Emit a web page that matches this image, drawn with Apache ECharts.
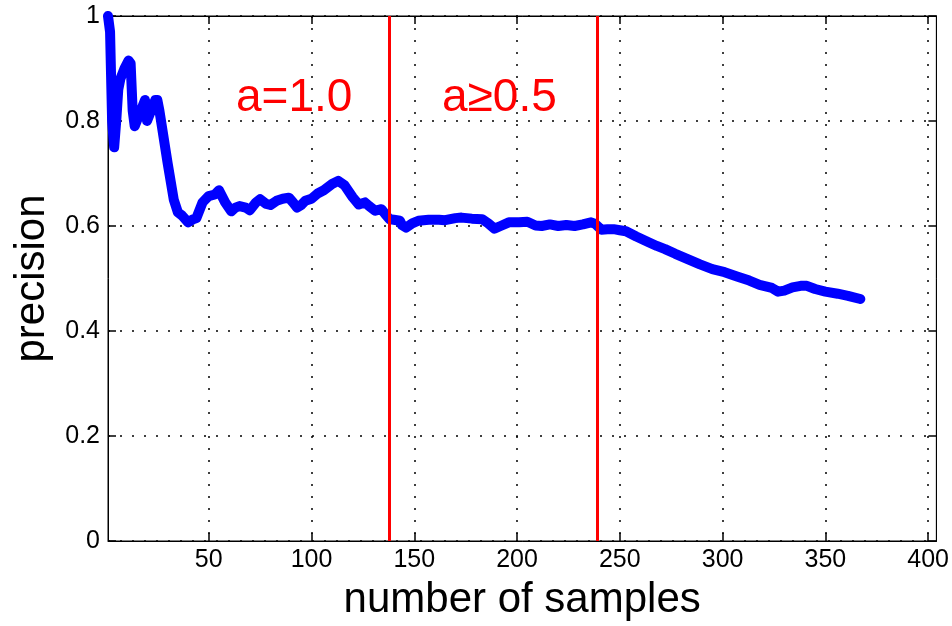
<!DOCTYPE html>
<html>
<head>
<meta charset="utf-8">
<script src="https://cdn.jsdelivr.net/npm/echarts@6/dist/echarts.min.js"></script>
<style>
html,body{margin:0;padding:0;background:#fff;}
#chart{width:952px;height:626px;}
</style>
</head>
<body>
<div id="chart"></div>
<script>
// ---- data ----
const sampleCounts = [1,2,3,4,5,6,7,9,11,12,13,14,16,18,19,20,22,24,25,26,30,33,35,37,40,42,44,47,50,53,55,58,61,63,65,68,70,73,75,78,80,83,86,89,91,93,95,97,100,103,106,110,113,116,120,123,126,128,131,134,136,138,140,143,144,146,149,152,157,162,165,170,173,178,183,186,189,192,196,201,205,209,212,216,220,224,228,232,236,238,241,244,247,250,253,258,264,268,272,277,283,289,295,301,307,313,318,324,327,330,334,338,341,345,350,356,361,367];
const precisionValues = [1.0,0.97,0.80,0.75,0.80,0.86,0.88,0.90,0.915,0.91,0.82,0.79,0.81,0.83,0.84,0.80,0.82,0.84,0.84,0.82,0.72,0.65,0.626,0.62,0.607,0.612,0.615,0.645,0.657,0.660,0.668,0.645,0.628,0.635,0.638,0.635,0.630,0.645,0.651,0.642,0.640,0.648,0.652,0.654,0.645,0.635,0.640,0.648,0.652,0.662,0.668,0.680,0.686,0.678,0.655,0.641,0.645,0.638,0.629,0.632,0.622,0.613,0.612,0.610,0.602,0.597,0.605,0.610,0.612,0.612,0.611,0.615,0.616,0.614,0.613,0.605,0.595,0.600,0.607,0.607,0.608,0.601,0.600,0.603,0.600,0.602,0.600,0.603,0.607,0.604,0.593,0.594,0.594,0.592,0.590,0.580,0.569,0.562,0.556,0.547,0.537,0.527,0.518,0.512,0.504,0.496,0.488,0.482,0.475,0.477,0.483,0.486,0.486,0.480,0.475,0.471,0.467,0.461];
const thresholdPositions = [138, 239];
const regionLabels = ['a=1.0', 'a\u22650.5'];
const xTickValues = [50,100,150,200,250,300,350,400];
const yTickValues = [0,0.2,0.4,0.6,0.8,1];
const xAxisName = 'number of samples';
const yAxisName = 'precision';

const FONT = '"Liberation Sans", Arial, sans-serif';
const lineData = sampleCounts.map((x, i) => [x, precisionValues[i]]);

const chart = echarts.init(document.getElementById('chart'), null, {renderer: 'canvas'});

const gridLine = {show: true, lineStyle: {color: '#000', width: 1.5, type: [2, 10]}};

chart.setOption({
  backgroundColor: '#fff',
  animation: false,
  grid: {left: 108, top: 16, right: 14, bottom: 83, show: true, borderColor: '#000', borderWidth: 1, backgroundColor: 'transparent'},
  xAxis: [{
    type: 'value', min: 1, max: 404, position: 'bottom',
    name: xAxisName, nameLocation: 'middle', nameGap: 38,
    nameTextStyle: {fontFamily: FONT, fontSize: 42, color: '#000'},
    axisLine: {show: true, onZero: false, lineStyle: {color: '#000', width: 1}},
    axisTick: {show: true, inside: true, length: 8, customValues: xTickValues, lineStyle: {color: '#000', width: 1.5}},
    axisLabel: {show: true, customValues: xTickValues, fontFamily: FONT, fontSize: 25, color: '#000', margin: 7},
    splitLine: gridLine
  }, {
    type: 'value', min: 1, max: 404, position: 'top',
    axisLine: {show: true, onZero: false, lineStyle: {color: '#000', width: 1}},
    axisTick: {show: true, inside: true, length: 8, customValues: xTickValues, lineStyle: {color: '#000', width: 1.5}},
    axisLabel: {show: false},
    splitLine: {show: false}
  }],
  yAxis: [{
    type: 'value', min: 0, max: 1, interval: 0.2, position: 'left',
    name: yAxisName, nameLocation: 'middle', nameGap: 55, nameRotate: 90,
    nameTextStyle: {fontFamily: FONT, fontSize: 42, color: '#000'},
    axisLine: {show: true, onZero: false, lineStyle: {color: '#000', width: 1}},
    axisTick: {show: true, inside: true, length: 8, lineStyle: {color: '#000', width: 1.5}},
    axisLabel: {show: true, fontFamily: FONT, fontSize: 25, color: '#000', margin: 8},
    splitLine: gridLine
  }, {
    type: 'value', min: 0, max: 1, interval: 0.2, position: 'right',
    axisLine: {show: true, onZero: false, lineStyle: {color: '#000', width: 1}},
    axisTick: {show: true, inside: true, length: 8, lineStyle: {color: '#000', width: 1.5}},
    axisLabel: {show: false},
    splitLine: {show: false}
  }],
  series: [{
    type: 'line', data: [], xAxisIndex: 0, yAxisIndex: 0, silent: true,
    markLine: {
      silent: true, symbol: ['none', 'none'], animation: false,
      label: {show: false},
      lineStyle: {color: '#ff0000', width: 3, type: 'solid'},
      data: thresholdPositions.map(v => ({xAxis: v}))
    }
  }, {
    type: 'line', data: lineData, xAxisIndex: 0, yAxisIndex: 0,
    symbol: 'none', smooth: false, clip: true,
    lineStyle: {color: '#0000ff', width: 10, join: 'round', cap: 'round'},
    itemStyle: {color: '#0000ff'}
  }],
  graphic: [
    {type: 'text', left: 236, top: 75, style: {text: regionLabels[0], font: '46px ' + FONT, fill: '#ff0000'}},
    {type: 'text', left: 442, top: 75, style: {text: regionLabels[1], font: '46px ' + FONT, fill: '#ff0000'}}
  ]
});
</script>
</body>
</html>
